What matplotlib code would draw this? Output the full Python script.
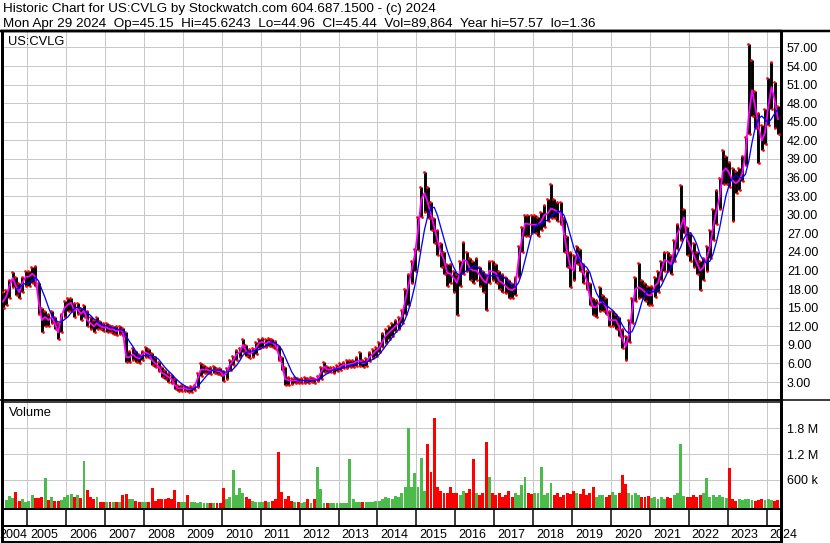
import numpy as np
import pandas as pd
import matplotlib
matplotlib.use("Agg")
import matplotlib.pyplot as plt
from matplotlib.lines import Line2D

plt.rcParams['font.family'] = ['Liberation Sans', 'DejaVu Sans']

# ---- data (monthly, May 2004 .. Apr 2024) ----
close = [
    16.0, 16.8, 18.5, 19.8, 18.5, 17.5, 19.0, 20.0,                      # 2004 May-Dec
    20.0, 20.5, 20.0, 16.0, 13.0, 13.5, 13.0, 13.5, 12.5, 11.0, 13.5, 15.0,  # 2005
    15.5, 15.8, 14.5, 14.8, 14.0, 14.5, 13.0, 12.5, 12.0, 12.5, 12.0, 11.8,  # 2006
    11.8, 11.5, 11.5, 11.2, 11.5, 11.0, 7.0, 7.0, 7.5, 7.0, 6.8, 7.5,        # 2007
    7.8, 7.5, 6.5, 6.0, 5.5, 4.5, 4.2, 3.8, 3.5, 2.5, 2.0, 2.0,              # 2008
    2.0, 1.8, 1.9, 2.2, 3.5, 5.0, 5.0, 5.0, 4.8, 5.0, 4.8, 4.7,              # 2009
    4.0, 4.5, 5.8, 6.5, 7.5, 7.8, 9.0, 8.0, 7.5, 7.8, 8.5, 9.3,              # 2010
    9.5, 9.2, 9.5, 9.3, 9.0, 7.5, 6.0, 3.5, 3.3, 3.2, 3.3, 3.2,              # 2011
    3.2, 3.3, 3.2, 3.4, 3.3, 3.5, 4.5, 5.5, 5.0, 5.0, 5.0, 5.2,              # 2012
    5.5, 5.8, 5.8, 5.9, 6.0, 6.3, 6.5, 6.0, 6.2, 7.0, 7.5, 8.0,              # 2013
    8.5, 9.5, 10.5, 11.0, 11.5, 12.0, 12.5, 13.5, 16.0, 18.5, 21.0, 23.5,    # 2014
    27.5, 32.5, 33.5, 32.0, 30.0, 28.0, 25.9, 24.0, 22.7, 20.6, 20.5, 19.8,  # 2015
    19.0, 21.0, 22.7, 22.5, 21.3, 21.0, 21.0, 20.3, 19.5, 19.0, 21.0, 20.8,  # 2016
    20.6, 19.3, 19.0, 18.5, 18.0, 17.8, 18.2, 22.7, 26.0, 28.6, 28.5, 28.4,  # 2017
    28.4, 28.4, 29.0, 30.0, 30.2, 31.0, 30.8, 30.5, 30.3, 27.0, 24.0, 21.5,  # 2018
    21.0, 23.8, 22.7, 20.6, 19.5, 16.7, 15.1, 15.1, 15.9, 15.9, 15.1, 13.0,  # 2019
    13.0, 13.0, 12.0, 10.0, 8.7, 10.5, 14.5, 18.0, 18.3, 18.0, 17.5, 17.0,   # 2020
    17.0, 18.5, 19.0, 21.0, 22.7, 22.5, 22.0, 24.3, 27.0, 28.0, 29.6, 26.0,  # 2021
    24.8, 23.5, 22.2, 21.0, 21.5, 23.0, 24.8, 28.0, 30.5, 32.8, 37.0, 37.5,  # 2022
    36.7, 35.5, 35.1, 35.5, 36.7, 40.0, 46.0, 50.1, 47.4, 44.2, 42.0, 43.2,  # 2023
    47.4, 50.6, 48.5, 45.44,                                                 # 2024 Jan-Apr
]
high = [
    17.5, 17.8, 19.5, 20.8, 20.0, 19.0, 20.0, 21.0,
    21.0, 21.5, 21.7, 19.0, 15.0, 14.5, 14.0, 14.5, 13.5, 12.5, 14.0, 16.0,
    16.5, 16.5, 15.8, 15.7, 15.0, 15.5, 14.5, 13.5, 13.0, 13.5, 12.8, 12.5,
    12.5, 12.2, 12.0, 12.0, 12.0, 11.8, 11.0, 8.0, 8.5, 8.0, 7.5, 8.0,
    8.6, 8.4, 7.7, 7.0, 6.2, 5.5, 5.0, 4.5, 4.2, 3.5, 2.6, 2.5,
    2.4, 2.2, 2.4, 2.6, 4.5, 6.0, 5.8, 5.5, 5.4, 5.6, 5.3, 5.3,
    4.8, 5.2, 6.5, 7.2, 8.2, 8.5, 10.0, 9.0, 8.3, 8.5, 9.5, 10.0,
    10.1, 10.0, 10.1, 10.0, 9.6, 8.8, 7.0, 5.5, 3.8, 3.7, 3.8, 3.6,
    3.6, 3.8, 3.7, 3.8, 3.7, 4.0, 5.5, 6.2, 5.6, 5.5, 5.5, 5.8,
    6.0, 6.3, 6.5, 6.5, 6.5, 7.0, 7.8, 6.6, 6.8, 7.8, 8.4, 8.6,
    9.5, 10.9, 11.5, 12.0, 12.5, 13.0, 13.5, 14.6, 18.0, 20.5, 22.5, 24.5,
    29.6, 34.5, 36.9, 34.5, 32.0, 29.5, 27.5, 25.5, 24.0, 22.0, 22.0, 21.0,
    20.5, 22.5, 25.6, 24.0, 23.0, 22.5, 23.0, 21.5, 21.0, 20.5, 22.5, 22.5,
    22.0, 21.0, 20.5, 20.0, 19.5, 19.0, 20.0, 25.0, 28.0, 30.0, 30.0, 30.0,
    30.0, 29.6, 30.5, 31.5, 32.5, 35.0, 32.5, 32.0, 32.0, 29.5, 26.5, 24.0,
    23.5, 25.0, 24.5, 22.0, 21.0, 19.0, 16.5, 16.2, 18.3, 17.0, 16.5, 14.5,
    14.5, 14.0, 13.5, 11.5, 10.5, 13.0, 16.5, 20.0, 22.2, 19.5, 19.0, 18.5,
    18.5, 20.0, 21.0, 22.5, 24.0, 24.0, 23.5, 26.0, 28.5, 34.8, 31.0, 28.0,
    27.0, 25.5, 24.0, 22.5, 23.0, 25.0, 27.5, 31.0, 34.0, 36.0, 40.4, 39.5,
    38.5, 37.5, 37.0, 37.5, 39.5, 42.5, 57.57, 55.0, 50.0, 46.5, 44.5, 47.0,
    52.0, 54.6, 51.5, 47.5,
]
low = [
    15.0, 15.5, 16.5, 18.3, 17.0, 16.5, 17.5, 18.5,
    18.5, 19.0, 18.5, 14.0, 11.0, 12.0, 12.0, 12.5, 11.5, 10.0, 11.0, 13.5,
    14.5, 14.5, 13.5, 14.0, 13.0, 13.5, 12.0, 11.5, 11.0, 11.5, 11.5, 11.2,
    11.0, 11.0, 10.8, 10.6, 10.8, 10.5, 6.2, 6.2, 6.5, 6.3, 6.0, 6.5,
    7.0, 6.8, 5.8, 5.4, 4.8, 3.8, 3.5, 3.0, 2.8, 1.8, 1.5, 1.6,
    1.6, 1.4, 1.36, 1.7, 2.2, 4.0, 4.5, 4.5, 4.3, 4.5, 4.3, 4.2,
    3.2, 3.5, 5.0, 5.8, 6.5, 7.0, 7.8, 7.2, 6.8, 7.0, 7.5, 8.5,
    8.7, 8.6, 8.8, 8.6, 8.3, 6.5, 5.0, 2.6, 2.5, 2.7, 2.8, 2.8,
    2.9, 2.9, 2.9, 3.0, 2.9, 3.1, 3.5, 4.6, 4.6, 4.6, 4.5, 4.8,
    5.0, 5.2, 5.3, 5.4, 5.5, 5.6, 5.6, 5.5, 5.6, 6.4, 6.8, 7.2,
    7.8, 8.6, 9.3, 10.0, 10.5, 11.2, 11.5, 12.5, 14.0, 15.5, 19.0, 21.0,
    24.3, 29.6, 30.5, 29.5, 27.5, 25.5, 23.5, 21.5, 20.5, 18.5, 19.0, 17.5,
    13.8, 18.5, 20.5, 21.0, 19.5, 19.0, 19.5, 18.5, 17.5, 14.6, 19.0, 19.5,
    19.0, 18.0, 17.5, 17.3, 16.5, 16.5, 17.0, 20.0, 24.0, 26.5, 26.5, 27.0,
    27.0, 26.5, 27.5, 28.0, 29.0, 29.5, 29.5, 29.0, 28.5, 24.0, 21.5, 18.4,
    19.5, 22.0, 21.0, 19.0, 18.0, 15.5, 13.8, 13.5, 14.5, 14.5, 14.0, 12.0,
    12.0, 11.5, 10.5, 8.5, 6.5, 9.5, 12.5, 16.0, 16.5, 16.5, 16.0, 15.5,
    15.5, 16.7, 17.5, 19.5, 21.0, 21.0, 20.5, 22.5, 24.5, 26.0, 27.0, 23.5,
    22.5, 21.5, 20.5, 17.8, 19.5, 21.0, 23.0, 26.0, 28.5, 31.0, 35.0, 35.0,
    34.5, 29.0, 33.5, 34.0, 35.5, 38.0, 43.0, 46.0, 44.0, 38.3, 40.5, 41.5,
    44.5, 47.0, 44.0, 43.0,
]
# volume in thousands of shares
volume = [
    100, 140, 230, 180, 330, 120, 150, 100,
    110, 250, 180, 180, 200, 650, 130, 200, 120, 110, 130, 200,
    250, 280, 200, 250, 180, 1050, 370, 200, 150, 200, 100, 90,
    100, 90, 80, 90, 100, 260, 280, 150, 150, 120, 100, 90,
    90, 100, 420, 120, 150, 160, 150, 180, 150, 370, 100, 90,
    100, 250, 80, 80, 70, 80, 70, 70, 70, 60, 60, 70,
    420, 150, 200, 840, 250, 410, 300, 200, 150, 120, 100, 90,
    100, 120, 100, 120, 150, 1250, 330, 150, 230, 120, 100, 90,
    70, 80, 150, 70, 150, 900, 400, 60, 60, 60, 70, 60,
    60, 60, 70, 1090, 150, 100, 90, 80, 80, 90, 100, 110,
    120, 150, 200, 180, 150, 230, 200, 300, 430, 1800, 430, 770,
    440, 1100, 350, 1440, 790, 2040, 440, 350, 300, 300, 440, 300,
    300, 250, 350, 300, 400, 1090, 300, 250, 300, 1480, 670, 300,
    250, 300, 200, 250, 350, 200, 300, 250, 490, 670, 300, 280,
    300, 300, 910, 250, 300, 540, 250, 300, 200, 250, 300, 280,
    350, 300, 280, 380, 250, 300, 440, 200, 250, 250, 200, 250,
    330, 250, 300, 720, 510, 300, 250, 300, 250, 200, 200, 220,
    180, 200, 150, 200, 150, 200, 180, 250, 300, 1440, 220, 200,
    200, 250, 200, 250, 300, 650, 200, 250, 200, 250, 200, 180,
    880, 150, 120, 150, 130, 170, 150, 130, 120, 130, 150, 140,
    150, 140, 120, 130,
]
years = list(range(2004, 2025))
price_ticks = [3, 6, 9, 12, 15, 18, 21, 24, 27, 30, 33, 36, 39, 42, 45, 48, 51, 54, 57]
vol_ticks = [600, 1200, 1800]
vol_labels = ["600 k", "1.2 M", "1.8 M"]

header1 = "Historic Chart for US:CVLG by Stockwatch.com 604.687.1500 - (c) 2024"
header2 = ("Mon Apr 29 2024  Op=45.15  Hi=45.6243  Lo=44.96  Cl=45.44  "
           "Vol=89,864  Year hi=57.57  lo=1.36")

# ---- layout helpers (pixel based) ----
W, H = 830, 543
def rect(x0, y0, x1, y1):
    return [x0 / W, 1 - y1 / H, (x1 - x0) / W, (y1 - y0) / H]

PX = 0.72  # points per pixel at dpi 100
GRID = '#c8c8c8'
GREEN = '#4cbb4c'

n = len(close)
t = 2004 + (np.arange(n) + 4 + 0.5) / 12.0
close_s = pd.Series(close)
ma_slow = close_s.rolling(5).mean()
chg = close_s.diff().fillna(0)
vol_colors = [GREEN if c >= 0 else '#ff0000' for c in chg]

fig = plt.figure(figsize=(W / 100, H / 100), dpi=100)
fig.patch.set_facecolor('white')
xlim = (2004.35, 2024.37)

# price panel
ax = fig.add_axes(rect(2, 31, 781, 400))
ax.set_xlim(*xlim)
ax.set_ylim(0.1, 59.66)
ax.set_xticks(years[1:])
ax.set_yticks(price_ticks)
ax.grid(True, color=GRID, lw=1 * PX)
ax.set_axisbelow(True)
ax.tick_params(axis='x', length=0, labelbottom=False)
ax.yaxis.tick_right()
ax.tick_params(axis='y', length=0, pad=6 * PX, labelsize=9, colors='#000000')
ax.set_yticklabels([f"{v:.2f}" for v in price_ticks])
ax.vlines(t, low, high, color='black', lw=2.9 * PX, zorder=2)
ax.plot(t - 0.02, high, ls='none', marker='s', ms=1.2 * PX, mfc='red', mec='red', zorder=3)
ax.plot(t + 0.02, low, ls='none', marker='s', ms=1.2 * PX, mfc='red', mec='red', zorder=3)
ax.plot(t, close, color='#ff00ff', lw=1.8 * PX, zorder=4)
ax.plot(t, ma_slow, color='#0000ff', lw=1.3 * PX, zorder=5)
ax.annotate("US:CVLG", xy=(0, 1), xycoords='axes fraction', xytext=(6, -11),
            textcoords='offset pixels', va='center', fontsize=9.3)
for side, w in (('left', 3), ('right', 3), ('top', 2.5), ('bottom', 1.5)):
    ax.spines[side].set_linewidth(w * PX)

# volume panel
axv = fig.add_axes(rect(2, 402, 781, 509), sharex=ax)
axv.set_ylim(-73, 2410)
axv.set_yticks(vol_ticks)
axv.grid(True, color=GRID, lw=1 * PX)
axv.set_axisbelow(True)
axv.tick_params(axis='x', length=0, labelbottom=False)
axv.yaxis.tick_right()
axv.tick_params(axis='y', length=0, pad=6 * PX, labelsize=9)
axv.set_yticklabels(vol_labels)
axv.bar(t, np.array(volume) + 73, bottom=-73, width=0.075, color=vol_colors,
        lw=0, zorder=2)
axv.annotate("Volume", xy=(0, 1), xycoords='axes fraction', xytext=(7, -11),
             textcoords='offset pixels', va='center', fontsize=9.3)
for side, w in (('left', 3), ('right', 3), ('top', 1.5), ('bottom', 2)):
    axv.spines[side].set_linewidth(w * PX)

# date row
axd = fig.add_axes(rect(2, 509, 781, 542), sharex=ax)
axd.set_ylim(0, 1)
axd.set_yticks([])
axd.tick_params(axis='x', length=0, labelbottom=False)
axd.axhline(0.5, color='black', lw=2 * PX)
axd.vlines(years[1:], 0.5, 1, color='black', lw=1.5 * PX)
for y in years:
    x = max(y, xlim[0])
    off = 3 if y > xlim[0] else -3
    axd.annotate(str(y), xy=(x, 0.22), xycoords='data', xytext=(off, 0),
                 textcoords='offset pixels', va='center', ha='left',
                 fontsize=9, annotation_clip=False)
for side, w in (('left', 3), ('right', 3), ('top', 2), ('bottom', 2)):
    axd.spines[side].set_linewidth(w * PX)

# header and full-width rules
fig.text(3 / W, 1 - 9 / H, header1, fontsize=9.7, va='center', ha='left')
fig.text(3 / W, 1 - 23.5 / H, header2, fontsize=9.7, va='center', ha='left')
fig.add_artist(Line2D([0, 1], [1 - 31 / H] * 2, color='black', lw=2.5 * PX))
fig.add_artist(Line2D([0, 1], [1 - 400 / H] * 2, color='black', lw=1.5 * PX))

fig.savefig("out.png", dpi=100, facecolor='white')
